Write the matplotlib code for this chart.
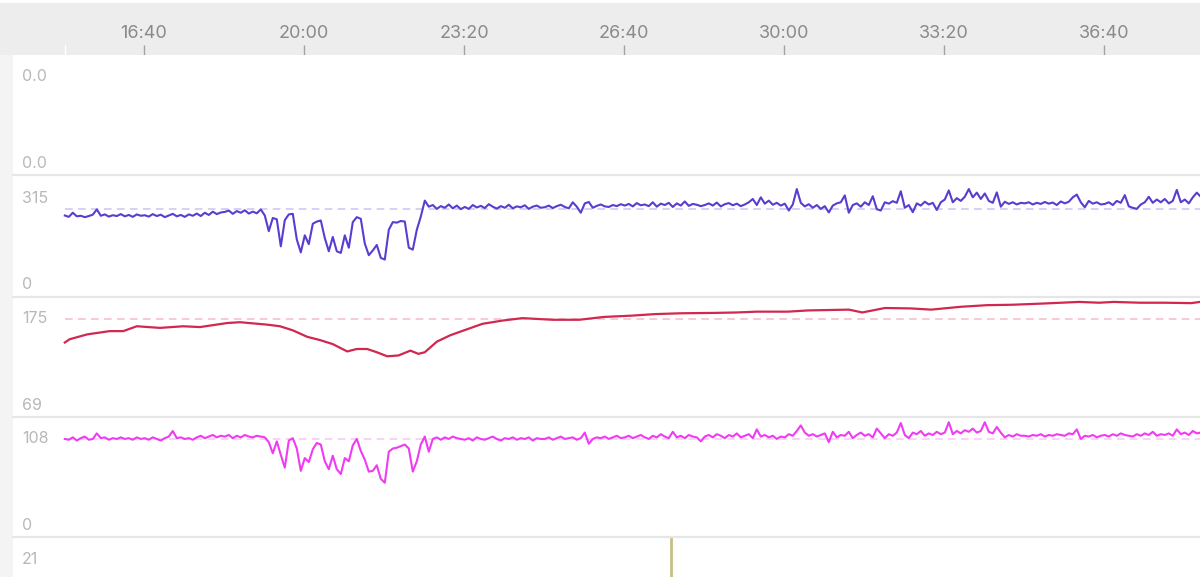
import numpy as np
import matplotlib
matplotlib.use("Agg")
import matplotlib.pyplot as plt
from matplotlib.lines import Line2D
from matplotlib.patches import Rectangle

plt.rcParams['font.family'] = ['Inter', 'DejaVu Sans']

W, H = 1200, 577

# time axis, seconds into the ride
tick_secs = [1000, 1200, 1400, 1600, 1800, 2000, 2200]
t_left, t_right = 820, 2320

# power (W), 5 s samples starting 15:01
power_t = np.arange(901, 2322, 5)
power = [
    252, 247, 262, 249, 251, 246, 250, 255, 274, 251, 256, 248, 253, 250, 257, 249, 254, 247, 256, 251,
    253, 248, 257, 250, 255, 246, 252, 258, 249, 254, 247, 256, 251, 259, 250, 262, 254, 266, 257, 263,
    265, 270, 258, 268, 262, 271, 259, 266, 260, 274, 252, 195, 243, 238, 140, 235, 256, 258, 165, 118,
    180, 148, 222, 230, 234, 170, 122, 174, 122, 116, 180, 135, 228, 246, 240, 150, 108, 125, 145, 98,
    92, 200, 228, 226, 232, 230, 135, 128, 200, 248, 306, 284, 290, 276, 286, 280, 292, 278, 288, 275,
    283, 276, 290, 281, 287, 279, 293, 284, 277, 286, 280, 291, 278, 285, 282, 289, 276, 284, 288, 280,
    282, 288, 279, 286, 291, 283, 278, 300, 284, 262, 296, 301, 280, 287, 292, 285, 283, 290, 286, 293,
    288, 294, 285, 297, 289, 292, 286, 300, 284, 295, 290, 298, 283, 296, 288, 303, 287, 294, 291, 286,
    290, 296, 288, 299, 285, 293, 297, 289, 295, 286, 292, 300, 312, 290, 318, 295, 306, 291, 298, 288,
    295, 270, 292, 348, 298, 285, 293, 280, 290, 276, 286, 263, 288, 296, 300, 325, 262, 290, 296, 284,
    300, 290, 322, 275, 270, 300, 295, 304, 298, 340, 280, 290, 264, 296, 288, 302, 292, 298, 272, 300,
    310, 343, 300, 315, 305, 320, 348, 318, 335, 312, 332, 305, 298, 336, 284, 302, 294, 300, 292, 298,
    296, 300, 292, 298, 294, 301, 295, 299, 290, 303, 296, 302, 318, 328, 300, 282, 305, 295, 300, 292,
    294, 300, 290, 305, 298, 326, 285, 280, 276, 292, 300, 320, 298, 310, 300, 312, 296, 305, 345, 300,
    310, 296, 318, 335, 320,
]
power_ref = 275
power_labels = ("0", "315")
power_range = (0, 315)

# heart rate (bpm)
hr_t = [901, 907, 929, 957, 974, 991, 1020, 1049, 1070, 1104, 1120, 1154, 1170, 1186, 1204,
        1220, 1236, 1254, 1266, 1279, 1291, 1304, 1318, 1333, 1343, 1351, 1366, 1383, 1423,
        1448, 1473, 1511, 1544, 1575, 1608, 1639, 1671, 1715, 1741, 1766, 1805, 1830, 1881,
        1898, 1926, 1958, 1984, 2021, 2054, 2085, 2124, 2169, 2194, 2212, 2245, 2276, 2309, 2320]
hr = [146, 150, 156, 160, 160, 166, 164, 166, 165, 170, 171, 168, 166, 161, 153,
      149, 144, 135, 138, 138, 134, 129, 130, 136, 132, 134, 147, 155, 169,
      173, 176, 174, 174, 177.5, 179, 181, 182, 182.5, 183, 184, 184, 185.5, 186.5,
      183, 188.5, 188, 186.5, 190, 192, 192.5, 194, 196, 195, 196, 195, 195, 194.5, 196]
hr_ref = 175
hr_labels = ("69", "175")
hr_range = (69, 175)

# cadence (rpm), same 5 s samples
cad_t = power_t
cadence = [
    108, 107, 110, 106, 109, 111, 107, 108, 115, 109, 110, 107, 109, 108, 110, 108, 109, 107, 110, 108,
    109, 107, 110, 108, 106, 109, 111, 118, 109, 110, 108, 109, 107, 110, 112, 109, 111, 113, 110, 112,
    111, 113, 109, 112, 110, 113, 111, 110, 112, 111, 110, 104, 90, 105, 88, 72, 106, 109, 96, 68,
    84, 79, 95, 103, 101, 80, 70, 87, 70, 64, 84, 80, 100, 108, 93, 82, 67, 68, 75, 58,
    53, 92, 96, 97, 99, 101, 96, 67, 80, 101, 111, 92, 108, 110, 107, 110, 108, 111, 109, 108,
    107, 109, 106, 110, 108, 107, 109, 111, 108, 106, 109, 108, 110, 107, 109, 108, 110, 106, 109, 108,
    108, 110, 107, 109, 111, 108, 109, 110, 107, 109, 116, 102, 108, 110, 109, 111, 108, 110, 112, 109,
    110, 112, 109, 111, 113, 110, 108, 112, 110, 114, 111, 109, 117, 110, 112, 109, 113, 111, 110, 105,
    111, 113, 110, 114, 112, 109, 113, 111, 115, 110, 112, 114, 109, 120, 111, 113, 110, 112, 108, 111,
    110, 114, 112, 118, 125, 116, 112, 114, 111, 113, 115, 104, 117, 110, 113, 112, 117, 109, 113, 116,
    112, 114, 110, 121, 115, 109, 114, 112, 116, 128, 113, 109, 116, 114, 118, 112, 115, 113, 117, 114,
    116, 129, 114, 118, 115, 119, 117, 121, 116, 118, 129, 117, 115, 123, 116, 110, 113, 111, 114, 112,
    112, 111, 113, 112, 114, 111, 113, 112, 114, 113, 112, 115, 114, 120, 108, 112, 111, 113, 110, 112,
    113, 111, 114, 112, 115, 113, 112, 111, 114, 112, 115, 113, 117, 112, 114, 113, 115, 112, 120, 114,
    116, 113, 118, 115, 116,
]
cad_ref = 108
cad_labels = ("0", "108")
cad_range = (0, 108)

empty_labels = ("0.0", "0.0")
event_t = 1659
bottom_label = "21"

FR_TOP, FR_BOT = 0.817, 0.100


def box(x0, y0, x1, y1):
    return [x0 / W, 1 - y1 / H, (x1 - x0) / W, (y1 - y0) / H]


def mmss(s):
    return "%d:%02d" % (s // 60, s % 60)


def fit_ylim(ax, lo, hi):
    span = (hi - lo) / (FR_TOP - FR_BOT)
    bottom = lo - FR_BOT * span
    ax.set_ylim(bottom, bottom + span)


def make_panel(y0, y1, labels):
    ax = fig.add_axes(box(13, y0, 1200, y1))
    ax.set_xlim(t_left + 13 / 0.8, t_right)
    for s in ax.spines.values():
        s.set_visible(False)
    ax.set_xticks([])
    ax.set_yticks([])
    ax.text(9 / 1187, FR_BOT, labels[0], transform=ax.transAxes, ha='left', va='center',
            fontsize=11.5, color='#b8b8b8')
    ax.text(9 / 1187, FR_TOP, labels[1], transform=ax.transAxes, ha='left', va='center',
            fontsize=11.5, color='#b8b8b8')
    return ax


def ref_line(ax, t0, value, color):
    ax.plot([t0, t_right], [value, value], color=color, lw=1.1, dashes=(5, 3.5))


fig = plt.figure(figsize=(12, 5.77), dpi=100)
fig.patch.set_facecolor('white')

# left strip
fig.patches.append(Rectangle((0, 0), 13 / W, 1 - 55 / H, transform=fig.transFigure,
                             facecolor='#f4f4f4', edgecolor='none', zorder=0))

# time band on top
ax_t = fig.add_axes(box(0, 3, 1200, 55))
ax_t.set_facecolor('#ededed')
ax_t.set_xlim(t_left, t_right)
ax_t.set_ylim(0, 1)
for s in ax_t.spines.values():
    s.set_visible(False)
ax_t.set_yticks([])
ax_t.set_xticks(tick_secs)
ax_t.tick_params(axis='x', direction='in', length=7.5, width=1, color='#a2a2a2', labelbottom=False)
for s in tick_secs:
    ax_t.text(s, 0.42, mmss(s), ha='center', va='center', fontsize=13, color='#8a8a8a')
ax_t.axvline(power_t[0], ymin=0, ymax=0.2, color='white', lw=1)

ax1 = make_panel(55, 175, empty_labels)
ax1.set_ylim(0, 1)

ax2 = make_panel(176, 297, power_labels)
fit_ylim(ax2, *power_range)
ref_line(ax2, power_t[0], power_ref, '#cbc3f2')
ax2.plot(power_t, power, color='#5a3dd0', lw=1.5)

ax3 = make_panel(297, 417, hr_labels)
fit_ylim(ax3, *hr_range)
ref_line(ax3, hr_t[0], hr_ref, '#f4bcc9')
ax3.plot(hr_t, hr, color='#d0284e', lw=1.6)

ax4 = make_panel(417, 537, cad_labels)
fit_ylim(ax4, *cad_range)
ref_line(ax4, cad_t[0], cad_ref, '#f6c6f4')
ax4.plot(cad_t, cadence, color='#ef3cf2', lw=1.5)

ax5 = make_panel(537, 658, ("", bottom_label))
ax5.set_ylim(0, 1)
ax5.axvline(event_t, color='#c8bf86', lw=2)

# panel separators
for y in [175, 297, 417, 537]:
    fig.lines.append(Line2D([13 / W, 1], [1 - y / H, 1 - y / H], transform=fig.transFigure,
                            color='#e6e6e6', lw=1.6, zorder=5))

fig.savefig('out.png', dpi=100)
